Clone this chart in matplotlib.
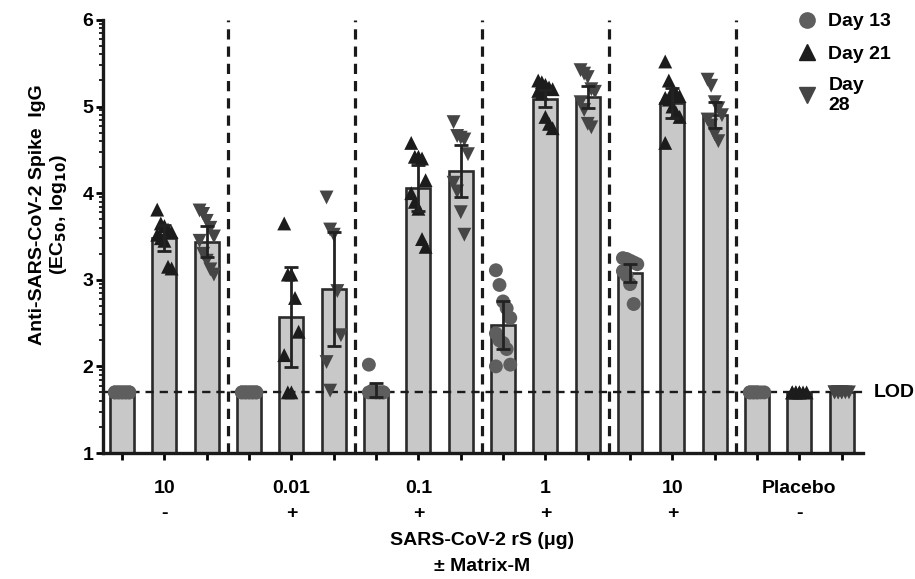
import matplotlib
matplotlib.use("Agg")
import matplotlib.pyplot as plt
import numpy as np
from matplotlib.lines import Line2D

plt.rcParams["font.family"] = ["Liberation Sans", "DejaVu Sans"]
plt.rcParams["font.weight"] = "bold"

# dose groups along the x axis
doses = ["10", "0.01", "0.1", "1", "10", "Placebo"]
matrix_m = ["-", "+", "+", "+", "+", "-"]

# individual animals, one list per group (log10 EC50)
day13 = [
    [1.7, 1.7, 1.7, 1.7, 1.7, 1.7, 1.7, 1.7, 1.7, 1.7],
    [1.7, 1.7, 1.7, 1.7, 1.7, 1.7, 1.7, 1.7, 1.7, 1.7],
    [2.02, 1.72, 1.7, 1.7, 1.7, 1.7, 1.7, 1.7, 1.7, 1.7],
    [3.11, 2.94, 2.75, 2.67, 2.56, 2.38, 2.3, 2.27, 2.2, 2.02, 2.0],
    [3.25, 3.24, 3.22, 3.2, 3.18, 3.1, 3.05, 2.95, 2.72],
    [1.7, 1.7, 1.7, 1.7, 1.7, 1.7, 1.7, 1.7],
]
day21 = [
    [3.81, 3.65, 3.62, 3.58, 3.55, 3.52, 3.48, 3.45, 3.15, 3.13],
    [3.65, 3.06, 3.06, 2.79, 2.4, 2.13, 1.7, 1.7],
    [4.58, 4.42, 4.42, 4.4, 4.15, 4.0, 3.9, 3.82, 3.47, 3.38],
    [5.3, 5.28, 5.25, 5.22, 5.2, 5.18, 5.15, 4.88, 4.8, 4.75],
    [5.52, 5.3, 5.18, 5.15, 5.12, 5.1, 5.08, 5.0, 4.93, 4.88, 4.58],
    [1.7, 1.7, 1.7, 1.7, 1.7, 1.7, 1.7, 1.7],
]
day28 = [
    [3.8, 3.76, 3.68, 3.6, 3.5, 3.45, 3.3, 3.22, 3.12, 3.06],
    [3.95, 3.58, 3.52, 2.87, 2.36, 2.05, 1.72],
    [4.82, 4.66, 4.64, 4.62, 4.45, 4.12, 4.02, 3.78, 3.52],
    [5.42, 5.38, 5.34, 5.2, 5.17, 5.05, 4.96, 4.8, 4.76],
    [5.31, 5.24, 5.05, 4.98, 4.9, 4.85, 4.78, 4.68, 4.6],
    [1.7, 1.7, 1.7, 1.7, 1.7, 1.7, 1.7, 1.7],
]

# bar heights (group means) and error bars
means13 = [1.7, 1.7, 1.73, 2.48, 3.08, 1.7]
means21 = [3.48, 2.57, 4.06, 5.09, 5.04, 1.7]
means28 = [3.44, 2.89, 4.26, 5.11, 4.9, 1.7]
err13 = [0, 0, 0.08, 0.28, 0.1, 0]
err21 = [0.15, 0.58, 0.27, 0.1, 0.17, 0]
err28 = [0.18, 0.66, 0.3, 0.13, 0.15, 0]

LOD = 1.7

series = [
    ("Day 13", day13, means13, err13, "o", "#5e5e5e"),
    ("Day 21", day21, means21, err21, "^", "#1c1c1c"),
    ("Day 28", day28, means28, err28, "v", "#454545"),
]

FS = 14


def spread(n, width=0.34):
    # simple deterministic horizontal spread for the scatter points
    cols = 5
    idx = np.arange(n) % cols
    return (idx - (cols - 1) / 2) * width / (cols - 1)


fig = plt.figure(figsize=(9.15, 5.79), dpi=100)
ax = fig.add_axes([0.1126, 0.2176, 0.8328, 0.748])

n_groups = len(doses)
for g in range(n_groups):
    for k, (name, pts, means, errs, marker, color) in enumerate(series):
        x = g * 3 + k
        ax.bar(x, means[g], width=0.57, bottom=0, color="#c8c8c8",
               edgecolor="#2b2b2b", linewidth=1.9, zorder=2)
        vals = np.array(pts[g])
        ax.scatter(x + spread(len(vals)), vals, marker=marker, s=100,
                   color=color, edgecolors="none", zorder=4)
        if errs[g] > 0:
            ax.errorbar(x, means[g], yerr=errs[g], fmt="none", ecolor="#222222",
                        elinewidth=2, capsize=5, capthick=2, zorder=5)

for xv in [2.5, 5.5, 8.5, 11.5, 14.5]:
    ax.plot([xv, xv], [1, 6], ls=(0, (3.2, 2.2)), lw=2.3, color="#1a1a1a", zorder=3)

ax.plot([-0.45, 17.5], [LOD, LOD], ls=(0, (3.5, 2.5)), lw=1.7, color="#1a1a1a", zorder=3)
ax.text(17.75, LOD, "LOD", ha="left", va="center", fontsize=FS, fontweight="bold")

ax.set_xlim(-0.45, 17.55)
ax.set_ylim(1, 6)
ax.set_yticks([1, 2, 3, 4, 5, 6])
minor = [d + np.log10(m) for d in range(1, 6) for m in range(2, 10)]
ax.set_yticks(minor, minor=True)
ax.set_xticks(np.arange(18))
ax.set_xticklabels([])
ax.tick_params(axis="y", which="major", length=5, width=2, labelsize=FS, pad=2)
ax.tick_params(axis="y", which="minor", length=3, width=1.2)
ax.tick_params(axis="x", which="major", length=5, width=2)
for lab in ax.get_yticklabels():
    lab.set_fontweight("bold")

for side in ["top", "right"]:
    ax.spines[side].set_visible(False)
for side in ["left", "bottom"]:
    ax.spines[side].set_linewidth(2.4)
    ax.spines[side].set_color("#1a1a1a")
ax.spines["bottom"].set_bounds(-0.45, 17.5)

trans = ax.get_xaxis_transform()
for g in range(n_groups):
    ax.text(g * 3 + 1, -0.083, doses[g], transform=trans, ha="center", va="center",
            fontsize=FS, fontweight="bold")
    ax.text(g * 3 + 1, -0.139, matrix_m[g], transform=trans, ha="center", va="center",
            fontsize=FS, fontweight="bold")
ax.text(8.5, -0.201, "SARS-CoV-2 rS (\u03bcg)", transform=trans, ha="center", va="center",
        fontsize=FS, fontweight="bold")
ax.text(8.5, -0.263, "\u00b1 Matrix-M", transform=trans, ha="center", va="center",
        fontsize=FS, fontweight="bold")

ax.set_ylabel("Anti-SARS-CoV-2 Spike  IgG\n(EC$_{\\mathbf{50}}$, log$_{\\mathbf{10}}$)",
              fontsize=FS, fontweight="bold", linespacing=1.1)
ax.yaxis.set_label_coords(-0.045, 0.55)

handles = [Line2D([], [], ls="none", marker=m, color=c, markersize=11)
           for (_, _, _, _, m, c) in series]
fig.legend(handles, ["Day 13", "Day 21", "Day\n28"], loc="upper left",
           bbox_to_anchor=(0.85, 1.008), frameon=False, fontsize=FS,
           handletextpad=0.5, labelspacing=0.75, handlelength=1.2)

fig.savefig("out.png", dpi=100)
